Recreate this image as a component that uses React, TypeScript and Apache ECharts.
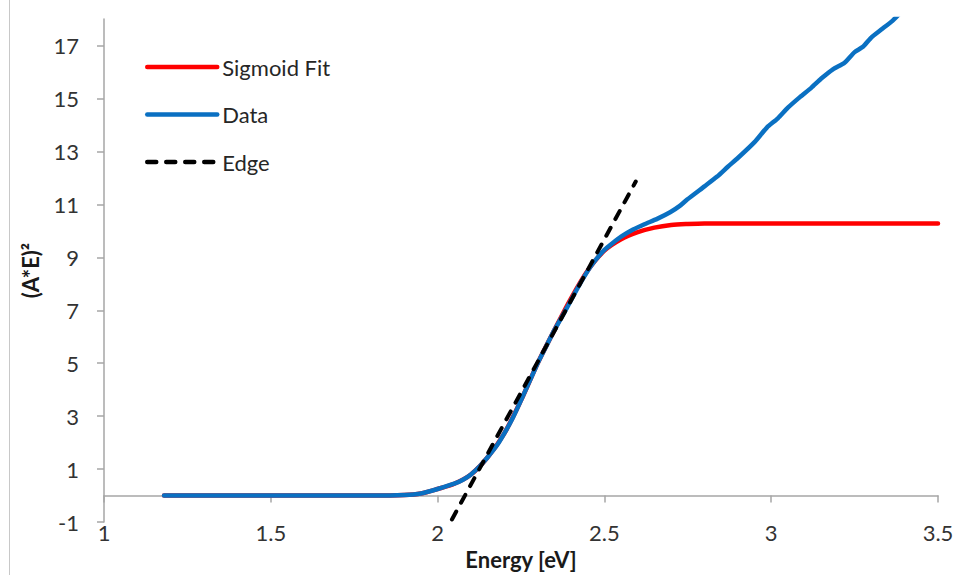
import React, { useEffect, useRef } from "react";
import * as echarts from "echarts";

const dataX = [1.18, 1.3, 1.4, 1.5, 1.6, 1.7, 1.8, 1.9, 1.95, 2.0, 2.05, 2.076, 2.1, 2.127, 2.15, 2.178, 2.2, 2.226, 2.25, 2.277, 2.3, 2.33, 2.35, 2.388, 2.42, 2.457, 2.48, 2.5, 2.526, 2.55, 2.586, 2.62, 2.658, 2.697, 2.727, 2.748, 2.8, 2.838, 2.87, 2.9, 2.95, 2.987, 3.02, 3.05, 3.086, 3.12, 3.15, 3.185, 3.22, 3.25, 3.275, 3.3, 3.33, 3.365, 3.4];
const dataY = [0, 0, 0, 0, 0, 0, 0, 0.02, 0.08, 0.25, 0.45, 0.6, 0.8, 1.12, 1.45, 1.9, 2.35, 2.95, 3.6, 4.35, 5.0, 5.75, 6.25, 7.1, 7.85, 8.62, 9.0, 9.28, 9.55, 9.78, 10.05, 10.25, 10.45, 10.7, 10.95, 11.18, 11.68, 12.05, 12.42, 12.75, 13.35, 13.9, 14.25, 14.65, 15.05, 15.4, 15.75, 16.1, 16.35, 16.75, 16.95, 17.3, 17.6, 17.95, 18.4];

const fitX = [1.18, 1.5, 1.8, 1.9, 1.95, 2.0, 2.05, 2.1, 2.15, 2.2, 2.25, 2.3, 2.35, 2.4, 2.45, 2.5, 2.55, 2.6, 2.65, 2.7, 2.75, 2.8, 3.0, 3.5];
const fitY = [0, 0, 0, 0.02, 0.08, 0.25, 0.45, 0.8, 1.45, 2.35, 3.6, 5.0, 6.25, 7.45, 8.5, 9.25, 9.68, 9.95, 10.12, 10.22, 10.26, 10.28, 10.28, 10.28];

const edgeX = [2.043, 2.594];
const edgeY = [-0.9, 11.86];

const xTicks = { min: 1, max: 3.5, interval: 0.5 };
const yTickValues = [-1, 1, 3, 5, 7, 9, 11, 13, 15, 17];
const yRange = { min: -1, max: 18 };

const pair = (xs: number[], ys: number[]) => xs.map((x, i) => [x, ys[i]]);

const FONT = "Lato";
const FS = 22;

export default function App() {
  const ref = useRef<HTMLDivElement>(null);
  useEffect(() => {
    if (!ref.current) return;
    const chart = echarts.init(ref.current, undefined, { renderer: "svg" });
    chart.setOption({
      animation: false,
      backgroundColor: "#ffffff",
      textStyle: { fontFamily: FONT },
      grid: { left: 104, right: 20, top: 19, bottom: 49, containLabel: false },
      graphic: [
        {
          type: "line",
          shape: { x1: 9.5, y1: 0, x2: 9.5, y2: 575 },
          style: { stroke: "#c8c8c8", lineWidth: 1 },
        },
      ],
      legend: {
        orient: "vertical",
        left: 145,
        top: 56,
        padding: 0,
        itemWidth: 70,
        itemHeight: 22,
        itemGap: 25.5,
        itemStyle: { opacity: 0 },
        lineStyle: { width: 4.5, cap: "round" },
        textStyle: { fontFamily: FONT, fontSize: FS, color: "#262626" },
        data: ["Sigmoid Fit", "Data", "Edge"],
      },
      xAxis: [
        {
          type: "value",
          min: xTicks.min,
          max: xTicks.max,
          interval: xTicks.interval,
          position: "bottom",
          name: "Energy [eV]",
          nameLocation: "middle",
          nameGap: 17,
          nameTextStyle: { fontFamily: FONT, fontSize: FS, fontWeight: "bold", color: "#1a1a1a" },
          axisLine: { show: false, onZero: false },
          axisTick: { show: false },
          splitLine: { show: false },
          axisLabel: { margin: -1, fontSize: FS, color: "#333333", fontFamily: FONT },
        },
        {
          type: "value",
          min: xTicks.min,
          max: xTicks.max,
          interval: xTicks.interval,
          position: "top",
          axisLine: { show: true, onZero: true, lineStyle: { color: "#a6a6a6", width: 1.5 } },
          axisTick: { show: true, inside: true, length: 7, lineStyle: { color: "#a6a6a6", width: 1.5 } },
          axisLabel: { show: false },
          splitLine: { show: false },
        },
      ],
      yAxis: {
        type: "value",
        min: yRange.min,
        max: yRange.max,
        name: "(A*E)²",
        nameLocation: "middle",
        nameGap: 63,
        nameTextStyle: { fontFamily: FONT, fontSize: FS, fontWeight: "bold", color: "#1a1a1a" },
        axisLine: { show: true, onZero: false, lineStyle: { color: "#a6a6a6", width: 1.5 } },
        axisTick: { show: true, length: 7, customValues: yTickValues, lineStyle: { color: "#a6a6a6", width: 1.5 } },
        axisLabel: { margin: 25, fontSize: FS, color: "#333333", fontFamily: FONT, customValues: yTickValues },
        splitLine: { show: false },
      },
      series: [
        {
          name: "Sigmoid Fit",
          type: "line",
          xAxisIndex: 0,
          data: pair(fitX, fitY),
          showSymbol: false,
          symbol: "none",
          smooth: 0.3,
          color: "#ff0000",
          lineStyle: { color: "#ff0000", width: 4.5, cap: "round" },
        },
        {
          name: "Data",
          type: "line",
          xAxisIndex: 0,
          data: pair(dataX, dataY),
          showSymbol: false,
          symbol: "none",
          smooth: 0.2,
          color: "#0a70c2",
          lineStyle: { color: "#0a70c2", width: 4.5, cap: "round" },
        },
        {
          name: "Edge",
          type: "line",
          xAxisIndex: 0,
          data: pair(edgeX, edgeY),
          showSymbol: false,
          symbol: "none",
          color: "#000000",
          lineStyle: { color: "#000000", width: 4, type: [9, 10], cap: "round" },
        },
      ],
    });
    return () => chart.dispose();
  }, []);
  return (
    <div
      ref={ref}
      style={{ position: "fixed", left: 0, top: 0, width: 958, height: 575 }}
    />
  );
}
